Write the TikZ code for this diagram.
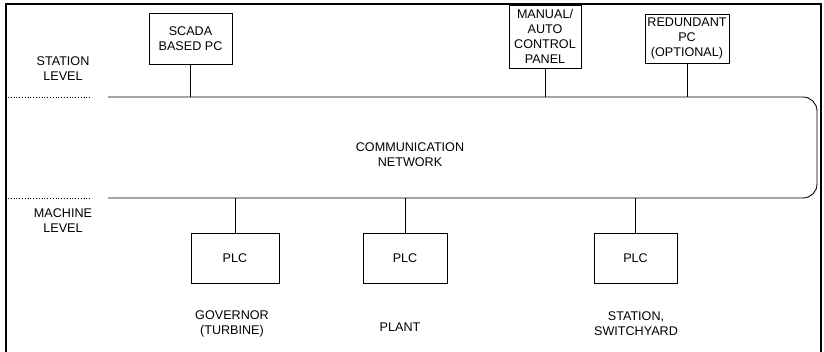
\documentclass[tikz,border=0pt]{standalone}
\usepackage{fontspec}
\setmainfont{Liberation Sans}
\tikzset{
  txt/.style={align=center, font=\fontsize{12.6}{15}\selectfont, inner sep=0pt},
  box/.style 2 args={draw, line width=0.9pt, txt, minimum width=#1, minimum height=#2},
  link/.style={line width=0.9pt},
  levelline/.style={line width=0.8pt, dotted},
}
\begin{document}
\begin{tikzpicture}[x=1pt, y=-1pt]
  \useasboundingbox (0,0) rectangle (824,352);

  % outer frame (open at the bottom)
  \draw[line width=1.2pt] (6,352) -- (6,4) -- (821,4) -- (821,352);

  % level separators and labels
  \coordinate (stA) at (8,97);
  \coordinate (stB) at (92,97);
  \coordinate (maA) at (8,198);
  \coordinate (maB) at (92,198);
  \draw[levelline] (stA) -- (stB);
  \draw[levelline] (maA) -- (maB);
  \node[txt] (station) at (63,69) {STATION\\LEVEL};
  \node[txt] (machine) at (63,221) {MACHINE\\LEVEL};

  % communication network bus
  \draw[line width=0.9pt, rounded corners=14pt] (108,97) -- (817,97) -- (817,198) -- (108,198);
  \coordinate (nettop) at (410,97);
  \coordinate (netbot) at (410,198);
  \node[txt] (net) at (410,155) {COMMUNICATION\\NETWORK};

  % station level units
  \node[box={83pt}{51pt}] (scada) at (190.5,38.5) {SCADA\\BASED PC};
  \node[box={72pt}{63pt}] (panel) at (545,36.5) {MANUAL/\\AUTO\\CONTROL\\PANEL};
  \node[box={84pt}{49pt}] (redund) at (687,38.5) {REDUNDANT\\PC\\(OPTIONAL)};

  \draw[link] (scada.south) -- (scada.south |- nettop);
  \draw[link] (panel.south) -- (panel.south |- nettop);
  \draw[link] (redund.south) -- (redund.south |- nettop);

  % machine level controllers
  \node[box={88pt}{50pt}] (plc1) at (235,258) {PLC};
  \node[box={84pt}{50pt}] (plc2) at (405,258) {PLC};
  \node[box={83pt}{50pt}] (plc3) at (635.5,258) {PLC};

  \draw[link] (plc1.north) -- (plc1.north |- netbot);
  \draw[link] (plc2.north) -- (plc2.north |- netbot);
  \draw[link] (plc3.north) -- (plc3.north |- netbot);

  % controlled sections
  \node[txt] (gov) at (232,324) {GOVERNOR\\(TURBINE)};
  \node[txt] (plant) at (400,327) {PLANT};
  \node[txt] (swyd) at (636,324) {STATION,\\SWITCHYARD};
\end{tikzpicture}
\end{document}
